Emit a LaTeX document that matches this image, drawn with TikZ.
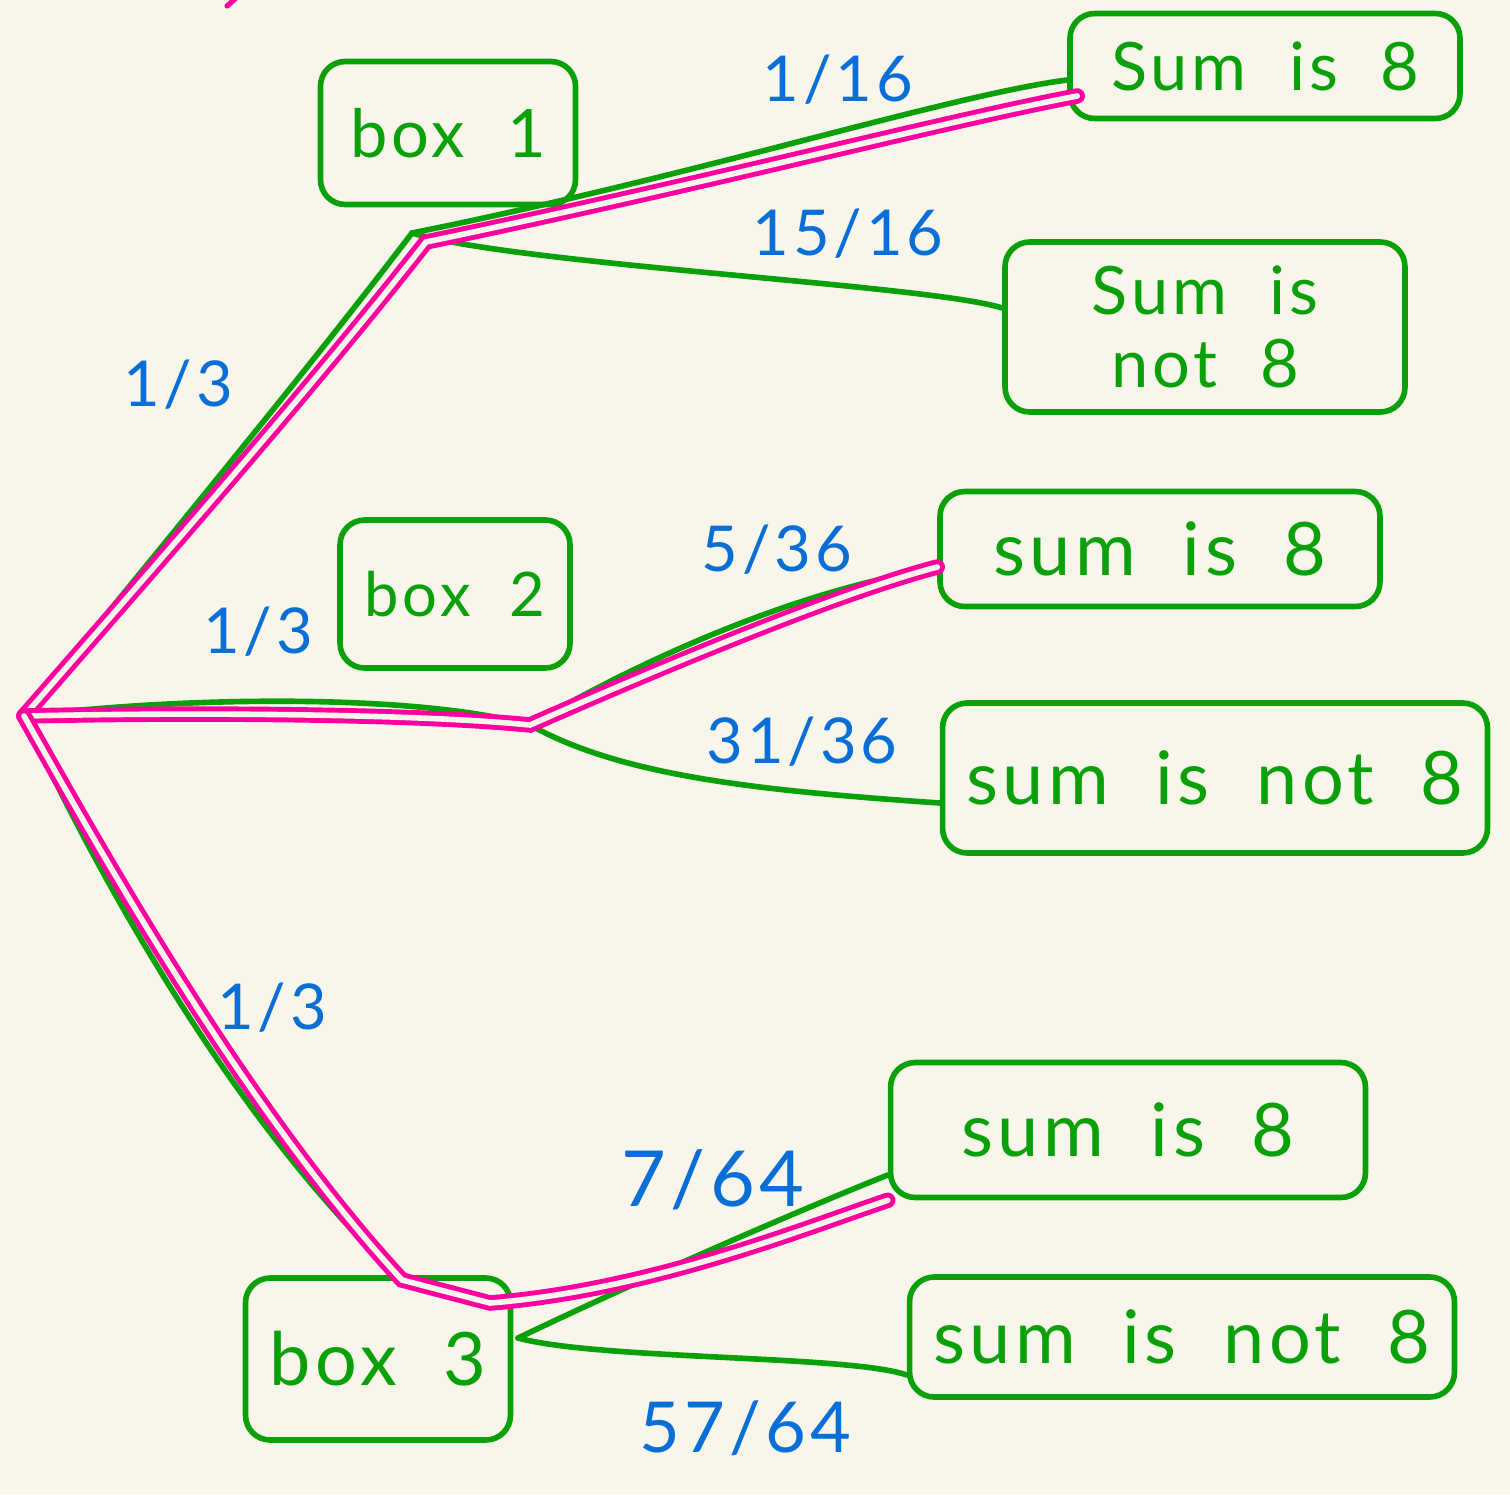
\documentclass[tikz,border=0pt]{standalone}
\usepackage{fontspec}
\setmainfont{Lato}[LetterSpace=6,WordSpace=2]
\definecolor{bg}{RGB}{248,246,234}
\definecolor{grn}{RGB}{10,160,10}
\definecolor{pnk}{RGB}{255,0,160}
\definecolor{blu}{RGB}{10,110,215}
\begin{document}
\begin{tikzpicture}[x=0.02cm,y=-0.02cm,
  boxnode/.style={draw=grn, line width=3.2pt, rounded corners=14pt, text=grn,
    font=\fontsize{38}{44}\selectfont, inner sep=0pt},
  leaf/.style={boxnode, font=\fontsize{42}{36}\selectfont, align=center},
  edge/.style={draw=grn, line width=3.2pt, line cap=round},
  hl/.style={draw=pnk, line width=2.8pt, double=bg, double distance=3.2pt, line cap=round},
  prob/.style={text=blu, font=\fontsize{36}{40}\selectfont}]
\fill[bg] (0,0) rectangle (1510,1494);
\useasboundingbox (0,0) rectangle (1510,1494);

% boxes
\node[boxnode, minimum width=5.1cm, minimum height=2.86cm] (box1) at (448,133) {box 1};
\node[boxnode, minimum width=4.6cm, minimum height=2.96cm, font=\fontsize{35}{40}\selectfont] (box2) at (455,594) {box 2};
\node[boxnode, minimum width=5.3cm, minimum height=3.24cm, font=\fontsize{42}{48}\selectfont] (box3) at (378,1359) {box 3};

% leaves
\node[leaf, minimum width=7.8cm, minimum height=2.1cm, font=\fontsize{38}{40}\selectfont] (L1) at (1265,66) {Sum is 8};
\node[leaf, minimum width=8.0cm, minimum height=3.4cm, font=\fontsize{38}{42}\selectfont] (L2) at (1205,327) {Sum is\\not 8};
\node[leaf, minimum width=8.8cm, minimum height=2.3cm] (L3) at (1160,549) {sum is 8};
\node[leaf, minimum width=10.9cm, minimum height=3.0cm] (L4) at (1215,778) {sum is not 8};
\node[leaf, minimum width=9.5cm, minimum height=2.7cm] (L5) at (1128,1130) {sum is 8};
\node[leaf, minimum width=10.9cm, minimum height=2.4cm] (L6) at (1182,1337) {sum is not 8};

% junction points
\coordinate (root) at (24,716);
\coordinate (j1) at (412,233);
\coordinate (j2) at (530,725);
\coordinate (j3) at (402,1280);
\coordinate (j3r) at (518,1338);
\coordinate (p1) at (426,242);
\coordinate (p3) at (490,1303);

% green connectors
\draw[edge] (root) .. controls (150,560) and (300,380) .. (j1);
\draw[edge] (j1) .. controls (700,175) and (950,95) .. ([yshift=-0.28cm]L1.west);
\draw[edge] (j1) .. controls (520,265) and (930,285) .. ([yshift=0.38cm]L2.west);
\draw[edge] (root) .. controls (200,695) and (420,695) .. (j2);
\draw[edge] (j2) .. controls (650,655) and (800,590) .. ([yshift=-0.38cm]L3.west);
\draw[edge] (j2) .. controls (620,775) and (750,790) .. ([yshift=-0.5cm]L4.west);
\draw[edge] (root) .. controls (90,860) and (230,1120) .. (j3);
\draw[edge] (j3r) .. controls (650,1275) and (800,1210) .. ([yshift=-0.9cm]L5.west);
\draw[edge] (j3r) .. controls (600,1360) and (850,1355) .. ([yshift=-0.76cm]L6.west);

% pink highlighted paths
\draw[hl] (root) .. controls (160,560) and (310,390) .. (p1)
  .. controls (700,185) and (950,120) .. ([xshift=0.2cm,yshift=-0.6cm]L1.west);
\draw[hl] (root) .. controls (200,712) and (420,714) .. (j2)
  .. controls (700,650) and (850,590) .. ([yshift=-0.36cm]L3.west);
\draw[hl] (root) .. controls (105,860) and (245,1110) .. (j3) -- (p3)
  .. controls (650,1290) and (800,1230) .. (L5.south west);
\draw[pnk, line width=3pt, line cap=round] (236,-2) -- (227,6);

% probabilities
\node[prob] (q1) at (178,385) {1/3};
\node[prob] (q2) at (258,632) {1/3};
\node[prob] (q3) at (272,1008) {1/3};
\node[prob] (q4) at (838,80) {1/16};
\node[prob] (q5) at (848,234) {15/16};
\node[prob] (q6) at (777,550) {5/36};
\node[prob] (q7) at (802,742) {31/36};
\node[prob, font=\fontsize{44}{48}\selectfont] (q8) at (713,1180) {7/64};
\node[prob, font=\fontsize{40}{44}\selectfont] (q9) at (745,1428) {57/64};
\end{tikzpicture}
\end{document}
